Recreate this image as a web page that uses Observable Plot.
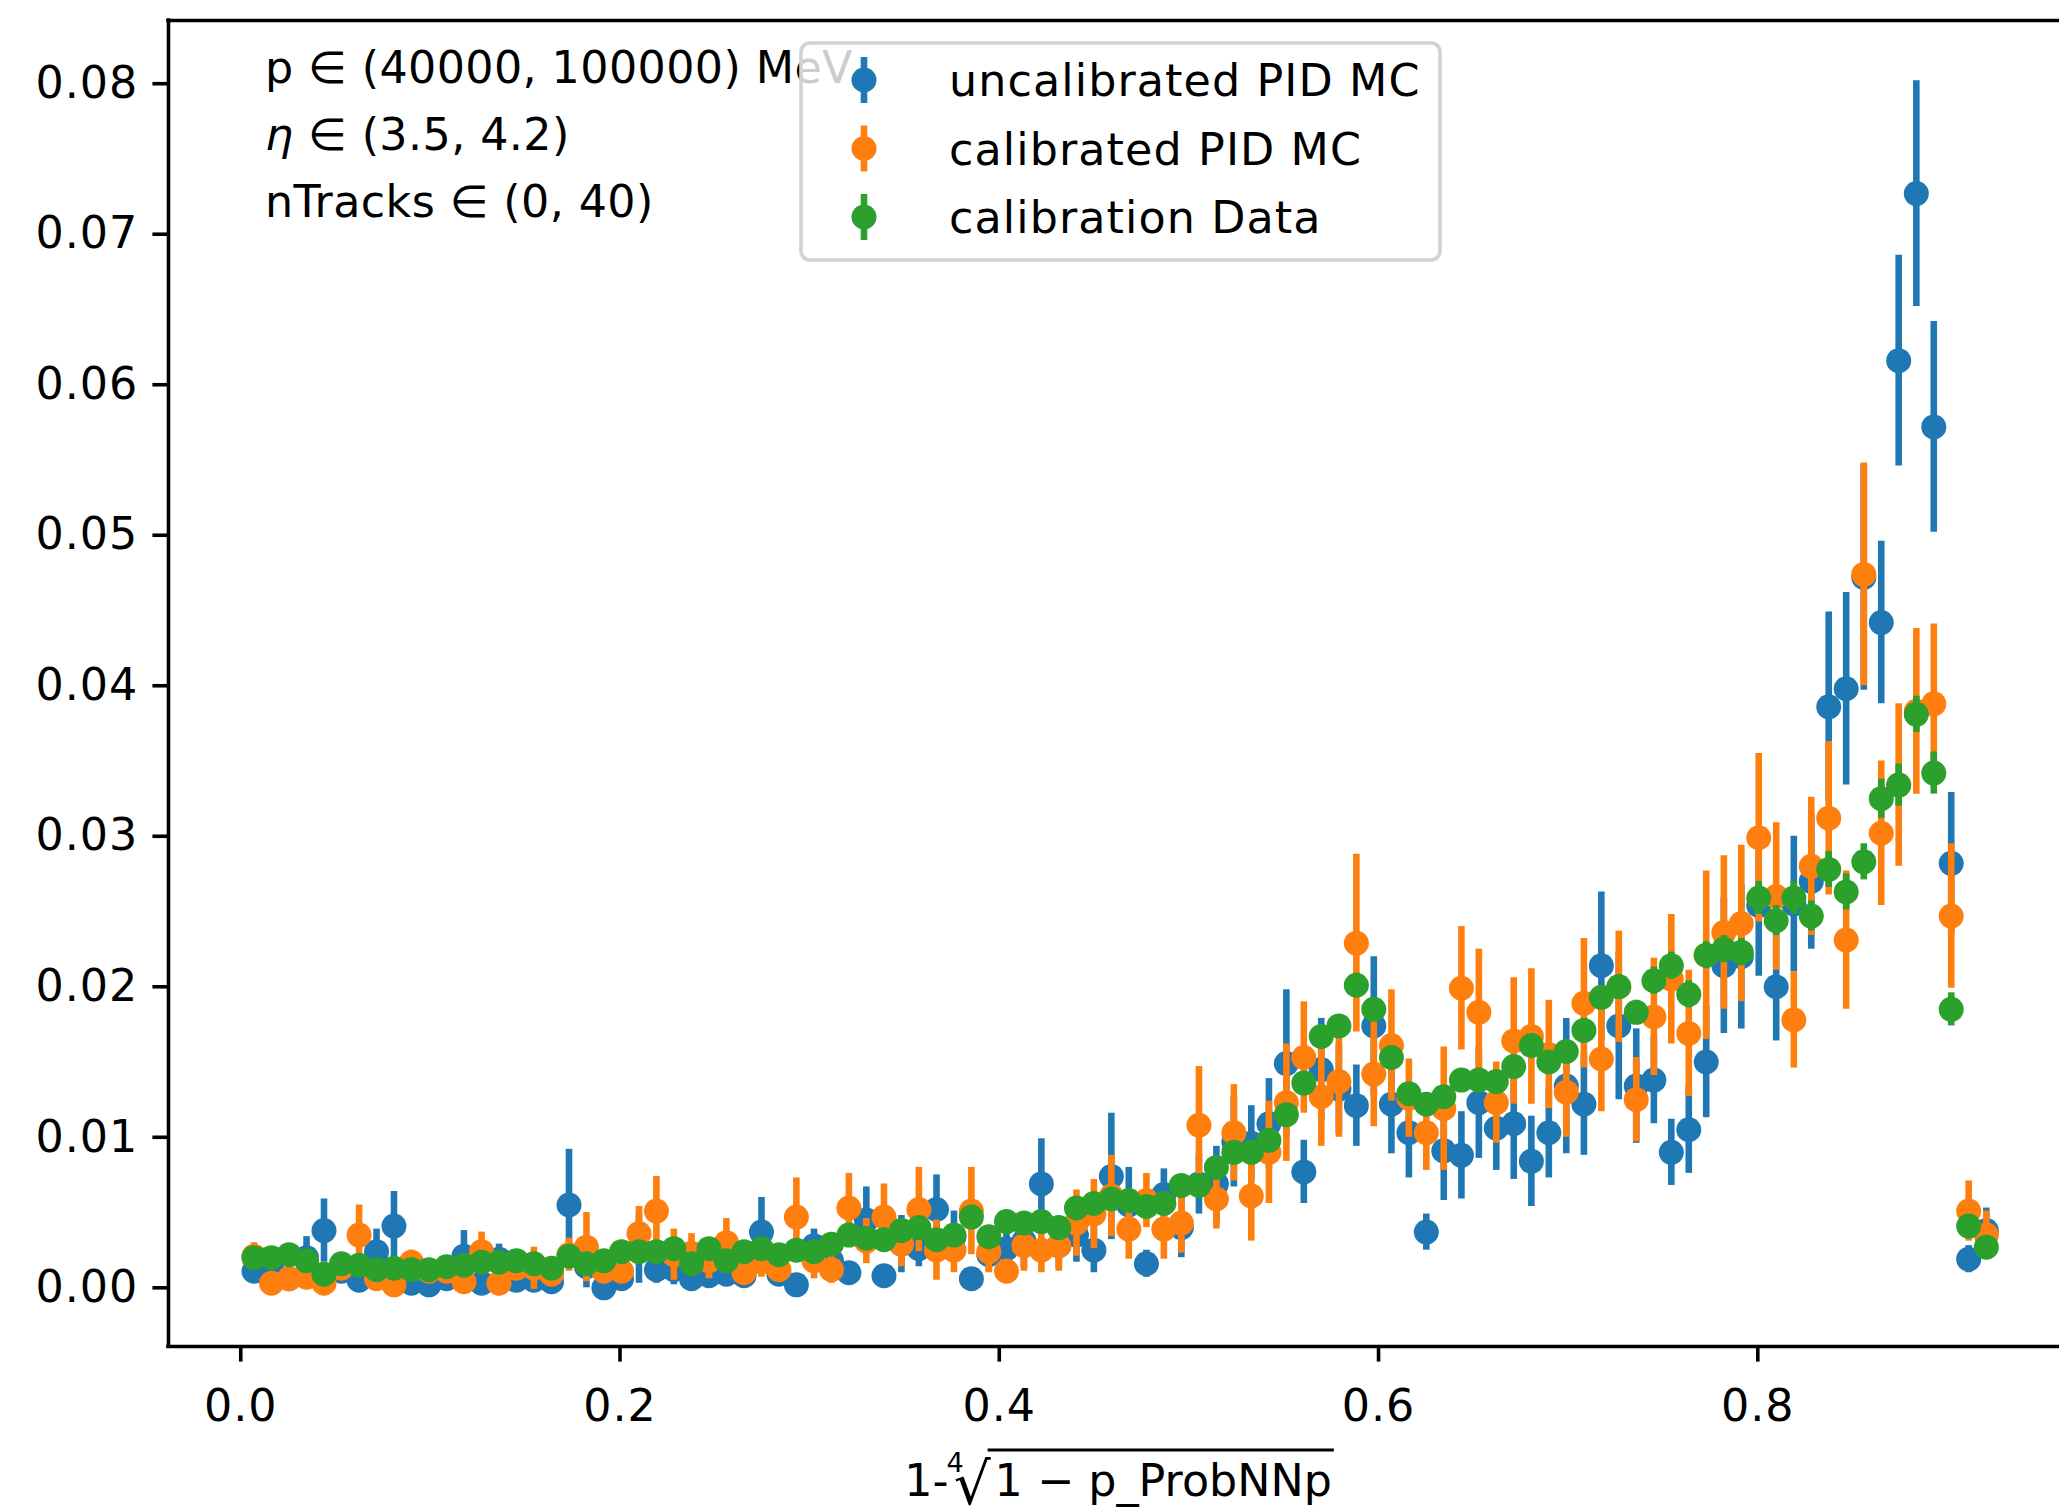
<!DOCTYPE html>
<html>
<head>
<meta charset="utf-8">
<script src="https://cdn.jsdelivr.net/npm/d3@7"></script>
<script src="https://cdn.jsdelivr.net/npm/@observablehq/plot@0.6"></script>
<style>
  html, body { margin: 0; padding: 0; background: white; overflow: hidden; }
  #chart svg { display: block; }
  #chart svg [aria-label="x-axis tick label"] text,
  #chart svg [aria-label="y-axis tick label"] text { letter-spacing: 1px; }
</style>
</head>
<body>
<div id="chart"></div>
<script>
// ---- data ----
const binCenters = [
  0.0070,0.0162,0.0255,0.0347,0.0439,0.0531,0.0624,0.0716,0.0808,0.0900,
  0.0993,0.1085,0.1177,0.1270,0.1362,0.1454,0.1546,0.1639,0.1731,0.1823,
  0.1915,0.2008,0.2100,0.2192,0.2284,0.2377,0.2469,0.2561,0.2654,0.2746,
  0.2838,0.2930,0.3023,0.3115,0.3207,0.3299,0.3392,0.3484,0.3576,0.3669,
  0.3761,0.3853,0.3945,0.4038,0.4130,0.4222,0.4314,0.4407,0.4499,0.4591,
  0.4683,0.4776,0.4868,0.4960,0.5053,0.5145,0.5237,0.5329,0.5422,0.5514,
  0.5606,0.5698,0.5791,0.5883,0.5975,0.6068,0.6160,0.6252,0.6344,0.6437,
  0.6529,0.6621,0.6713,0.6806,0.6898,0.6990,0.7083,0.7175,0.7267,0.7359,
  0.7452,0.7544,0.7636,0.7728,0.7821,0.7913,0.8005,0.8097,0.8190,0.8282,
  0.8374,0.8466,0.8559,0.8651,0.8743,0.8836,0.8928,0.9020,0.9112,0.9205
];
const uncalibratedMC = [
  0.0011,0.0015,0.0006,0.0020,0.0038,0.0011,0.0005,0.0024,0.0041,0.0003,
  0.0002,0.0006,0.0021,0.0003,0.0019,0.0005,0.0005,0.0004,0.0055,0.0014,
  0.0000,0.0006,0.0026,0.0012,0.0012,0.0006,0.0008,0.0009,0.0008,0.0037,
  0.0009,0.0002,0.0028,0.0018,0.0010,0.0045,0.0008,0.0029,0.0026,0.0052,
  0.0034,0.0006,0.0022,0.0026,0.0031,0.0069,0.0028,0.0035,0.0025,0.0074,
  0.0055,0.0016,0.0062,0.0040,0.0069,0.0069,0.0097,0.0096,0.0109,0.0149,
  0.0077,0.0145,0.0132,0.0121,0.0174,0.0122,0.0103,0.0037,0.0091,0.0088,
  0.0123,0.0106,0.0109,0.0084,0.0103,0.0134,0.0122,0.0214,0.0174,0.0134,
  0.0138,0.0090,0.0105,0.0150,0.0214,0.0220,0.0254,0.0200,0.0255,0.0270,
  0.0386,0.0398,0.0472,0.0442,0.0616,0.0727,0.0572,0.0282,0.0019,0.0038
];
const uncalibratedMCErr = [
  0.0005,0.0006,0.0004,0.0014,0.0021,0.0007,0.0005,0.0015,0.0023,0.0003,
  0.0003,0.0005,0.0017,0.0003,0.0010,0.0005,0.0005,0.0004,0.0037,0.0014,
  0.0003,0.0005,0.0023,0.0009,0.0010,0.0005,0.0006,0.0006,0.0007,0.0023,
  0.0006,0.0003,0.0011,0.0010,0.0007,0.0022,0.0006,0.0019,0.0012,0.0023,
  0.0017,0.0005,0.0011,0.0013,0.0018,0.0030,0.0015,0.0018,0.0015,0.0042,
  0.0025,0.0009,0.0017,0.0020,0.0020,0.0025,0.0030,0.0025,0.0030,0.0049,
  0.0021,0.0034,0.0030,0.0027,0.0046,0.0033,0.0030,0.0012,0.0033,0.0029,
  0.0037,0.0028,0.0037,0.0030,0.0030,0.0045,0.0034,0.0049,0.0049,0.0038,
  0.0029,0.0022,0.0029,0.0037,0.0045,0.0048,0.0047,0.0036,0.0045,0.0045,
  0.0063,0.0064,0.0075,0.0054,0.0070,0.0075,0.0070,0.0047,0.0009,0.0015
];
const calibratedMC = [
  0.0021,0.0003,0.0006,0.0007,0.0003,0.0013,0.0035,0.0006,0.0002,0.0017,
  0.0011,0.0011,0.0004,0.0024,0.0003,0.0013,0.0013,0.0009,0.0022,0.0027,
  0.0011,0.0011,0.0036,0.0051,0.0022,0.0023,0.0018,0.0030,0.0010,0.0017,
  0.0012,0.0047,0.0018,0.0012,0.0053,0.0031,0.0047,0.0029,0.0052,0.0025,
  0.0025,0.0051,0.0024,0.0011,0.0028,0.0025,0.0028,0.0043,0.0049,0.0061,
  0.0039,0.0058,0.0039,0.0043,0.0108,0.0059,0.0103,0.0061,0.0090,0.0123,
  0.0153,0.0127,0.0137,0.0229,0.0142,0.0161,0.0126,0.0103,0.0119,0.0199,
  0.0183,0.0123,0.0164,0.0167,0.0155,0.0130,0.0189,0.0152,0.0200,0.0125,
  0.0180,0.0205,0.0169,0.0221,0.0236,0.0242,0.0299,0.0260,0.0178,0.0280,
  0.0312,0.0231,0.0474,0.0302,0.0334,0.0383,0.0388,0.0247,0.0051,0.0035
];
const calibratedMCErr = [
  0.0009,0.0004,0.0005,0.0005,0.0004,0.0007,0.0020,0.0005,0.0003,0.0008,
  0.0007,0.0007,0.0004,0.0013,0.0004,0.0008,0.0014,0.0007,0.0011,0.0023,
  0.0007,0.0007,0.0018,0.0023,0.0017,0.0013,0.0012,0.0016,0.0008,0.0010,
  0.0008,0.0026,0.0012,0.0009,0.0023,0.0015,0.0022,0.0015,0.0028,0.0020,
  0.0015,0.0029,0.0014,0.0008,0.0017,0.0015,0.0017,0.0022,0.0023,0.0027,
  0.0020,0.0018,0.0020,0.0020,0.0039,0.0020,0.0032,0.0030,0.0034,0.0039,
  0.0037,0.0033,0.0037,0.0059,0.0035,0.0037,0.0026,0.0025,0.0041,0.0041,
  0.0042,0.0027,0.0042,0.0045,0.0036,0.0030,0.0043,0.0035,0.0037,0.0028,
  0.0039,0.0043,0.0042,0.0056,0.0051,0.0052,0.0056,0.0049,0.0032,0.0046,
  0.0051,0.0046,0.0074,0.0048,0.0054,0.0055,0.0053,0.0048,0.0020,0.0016
];
const calibrationData = [
  0.0020,0.0020,0.0022,0.0018,0.0009,0.0016,0.0015,0.0012,0.0013,0.0012,
  0.0012,0.0014,0.0015,0.0017,0.0017,0.0018,0.0016,0.0013,0.0021,0.0016,
  0.0018,0.0024,0.0024,0.0024,0.0026,0.0016,0.0026,0.0018,0.0024,0.0026,
  0.0022,0.0025,0.0024,0.0029,0.0035,0.0033,0.0032,0.0038,0.0040,0.0032,
  0.0035,0.0047,0.0034,0.0044,0.0043,0.0044,0.0040,0.0053,0.0056,0.0059,
  0.0058,0.0054,0.0056,0.0068,0.0068,0.0080,0.0090,0.0090,0.0098,0.0115,
  0.0136,0.0167,0.0174,0.0201,0.0185,0.0153,0.0129,0.0122,0.0127,0.0138,
  0.0138,0.0137,0.0147,0.0161,0.0150,0.0157,0.0171,0.0193,0.0200,0.0183,
  0.0204,0.0214,0.0195,0.0221,0.0225,0.0223,0.0259,0.0244,0.0259,0.0247,
  0.0278,0.0263,0.0283,0.0325,0.0334,0.0381,0.0342,0.0185,0.0041,0.0027
];
const calibrationDataErr = [
  0.0003,0.0003,0.0003,0.0003,0.0002,0.0003,0.0003,0.0003,0.0003,0.0003,
  0.0003,0.0003,0.0003,0.0003,0.0003,0.0003,0.0003,0.0003,0.0003,0.0003,
  0.0003,0.0003,0.0003,0.0003,0.0003,0.0003,0.0003,0.0003,0.0003,0.0003,
  0.0003,0.0003,0.0003,0.0003,0.0003,0.0003,0.0003,0.0004,0.0004,0.0003,
  0.0004,0.0004,0.0003,0.0004,0.0004,0.0004,0.0004,0.0004,0.0004,0.0004,
  0.0004,0.0004,0.0004,0.0005,0.0005,0.0005,0.0005,0.0005,0.0005,0.0006,
  0.0006,0.0007,0.0007,0.0008,0.0008,0.0007,0.0007,0.0006,0.0007,0.0007,
  0.0007,0.0007,0.0007,0.0007,0.0007,0.0007,0.0008,0.0008,0.0008,0.0008,
  0.0009,0.0009,0.0009,0.0009,0.0009,0.0009,0.0011,0.0010,0.0011,0.0010,
  0.0012,0.0012,0.0012,0.0013,0.0014,0.0012,0.0014,0.0011,0.0005,0.0004
];
const seriesNames = ["uncalibrated PID MC", "calibrated PID MC", "calibration Data"];
const seriesColors = ["#1f77b4", "#ff7f0e", "#2ca02c"];
const xTicks = [0.0, 0.2, 0.4, 0.6, 0.8];
const xTickLabels = ["0.0", "0.2", "0.4", "0.6", "0.8"];
const yTicks = [0.00, 0.01, 0.02, 0.03, 0.04, 0.05, 0.06, 0.07, 0.08];
const yTickLabels = ["0.00", "0.01", "0.02", "0.03", "0.04", "0.05", "0.06", "0.07", "0.08"];
const annotationLines = ["p ∈ (40000, 100000) MeV", "η ∈ (3.5, 4.2)", "nTracks ∈ (0, 40)"];
const xDomain = [-0.0381, 0.9591];
const yDomain = [-0.0039, 0.0842];

// ---- build tables ----
const seriesValues = [uncalibratedMC, calibratedMC, calibrationData];
const seriesErrors = [uncalibratedMCErr, calibratedMCErr, calibrationDataErr];
const tables = seriesValues.map((vals, s) => vals.map((v, i) => ({
  x: binCenters[i], y: v, lo: v - seriesErrors[s][i], hi: v + seriesErrors[s][i], series: seriesNames[s]
})));

const FS = 44.4;
const LS = "1.1px";
const font = "DejaVu Sans";

const marks = [];
tables.forEach((rows, s) => {
  marks.push(Plot.ruleX(rows, {x: "x", y1: "lo", y2: "hi", stroke: seriesColors[s], strokeWidth: 6.6}));
  marks.push(Plot.dot(rows, {x: "x", y: "y", r: 12.5, fill: seriesColors[s], stroke: "none"}));
});
// spines (left, bottom, top; the right one is outside the picture)
marks.push(Plot.ruleX([xDomain[0]], {stroke: "black", strokeWidth: 3.6, strokeLinecap: "square"}));
marks.push(Plot.ruleY([yDomain[0]], {stroke: "black", strokeWidth: 3.6, strokeLinecap: "square"}));
marks.push(Plot.ruleY([yDomain[1]], {stroke: "black", strokeWidth: 3.6, strokeLinecap: "square"}));
marks.push(Plot.axisX({ticks: xTicks, tickFormat: (d) => xTickLabels[xTicks.indexOf(d)], tickSize: 15.6, tickPadding: 27,
  strokeWidth: 3.6, fontSize: FS, label: null, fill: "black", stroke: "black"}));
marks.push(Plot.axisY({ticks: yTicks, tickFormat: (d) => yTickLabels[yTicks.indexOf(d)], tickSize: 15.6, tickPadding: 14.6,
  strokeWidth: 3.6, fontSize: FS, label: null, fill: "black", stroke: "black"}));

const svg = Plot.plot({
  width: 2059,
  height: 1510,
  marginLeft: 168,
  marginRight: 0,
  marginTop: 20,
  marginBottom: 164,
  style: {fontFamily: font, fontSize: FS + "px", background: "white", color: "black", overflow: "visible"},
  x: {domain: xDomain},
  y: {domain: yDomain},
  marks
});
document.getElementById("chart").appendChild(svg);

const root = d3.select(svg);

// annotation text (top-left)
const ann = root.append("g").attr("font-family", font).attr("font-size", FS).attr("fill", "black")
  .attr("text-anchor", "start").style("letter-spacing", "0.4px");
const annBase = [83, 150, 217];
annotationLines.forEach((line, i) => {
  const t = ann.append("text").attr("x", 265).attr("y", annBase[i]).attr("text-anchor", "start");
  if (line.startsWith("η")) {
    t.append("tspan").attr("font-style", "italic").text("η");
    t.append("tspan").text(line.slice(1));
  } else {
    t.text(line);
  }
});

// legend
const lg = root.append("g").attr("font-family", font).attr("font-size", FS).attr("text-anchor", "start")
  .style("letter-spacing", LS);
lg.append("rect").attr("x", 801).attr("y", 43).attr("width", 639).attr("height", 217).attr("rx", 9)
  .attr("fill", "white").attr("fill-opacity", 0.8).attr("stroke", "#d2d2d2").attr("stroke-width", 3.6);
seriesNames.forEach((name, i) => {
  const cy = 80 + i * 68.5;
  lg.append("line").attr("x1", 864).attr("x2", 864).attr("y1", cy - 23).attr("y2", cy + 23)
    .attr("stroke", seriesColors[i]).attr("stroke-width", 6.6);
  lg.append("circle").attr("cx", 864).attr("cy", cy).attr("r", 12.5).attr("fill", seriesColors[i]);
  lg.append("text").attr("x", 949).attr("y", cy + 16).attr("text-anchor", "start").attr("fill", "black").text(name);
});

// x axis label: 1-∜(1 − p_ProbNNp)
const xl = root.append("text").attr("x", 1118).attr("y", 1496).attr("text-anchor", "middle")
  .attr("font-family", font).attr("font-size", FS).attr("fill", "black");
xl.append("tspan").text("1-");
xl.append("tspan").attr("font-size", 27).attr("dy", -24).attr("dx", -2).text("4");
xl.append("tspan").attr("font-size", 58).attr("dy", 32).attr("dx", -10).text("√");
xl.append("tspan").attr("dy", -8).attr("dx", 4).text("1 − p_ProbNNp");
// overline above the radicand
try {
  const node = xl.node();
  const n = node.getNumberOfChars();
  const xs = node.getEndPositionOfChar(3).x;
  const xe = node.getEndPositionOfChar(n - 1).x;
  root.append("line").attr("x1", xs - 3).attr("x2", xe + 2).attr("y1", 1450).attr("y2", 1450)
    .attr("stroke", "black").attr("stroke-width", 3);
} catch (e) {}
</script>
</body>
</html>
